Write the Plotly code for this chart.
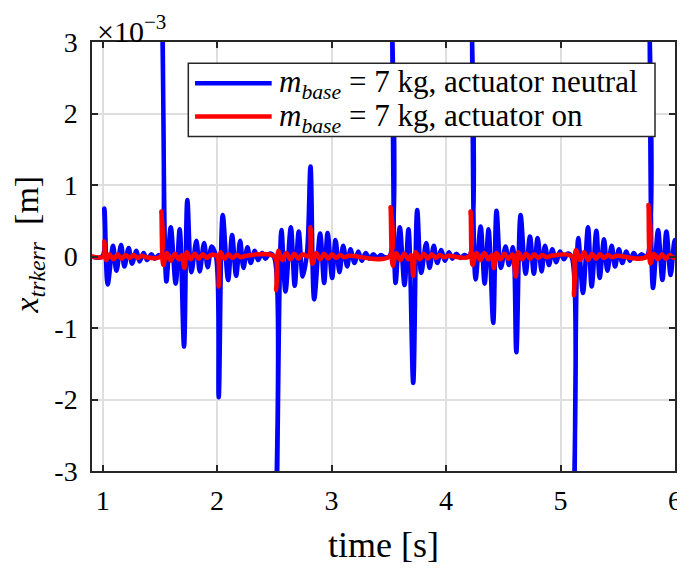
import plotly.graph_objects as go

# time [s] and tracking error [x 1e-3 m], vertices
t_neutral = [0.90, 0.995, 1.015, 1.044, 1.091, 1.120, 1.161, 1.190, 1.227, 1.257, 1.295, 1.323, 1.358, 1.388,
             1.426, 1.455, 1.490, 1.508, 1.519, 1.557, 1.595, 1.638, 1.673, 1.711, 1.740, 1.775, 1.819, 1.848,
             1.886, 1.918, 1.952, 1.990, 2.014, 2.049, 2.096, 2.131, 2.166, 2.201, 2.230, 2.265, 2.294, 2.329,
             2.358, 2.393, 2.422, 2.457, 2.495, 2.516, 2.562, 2.597, 2.644, 2.678, 2.713, 2.748, 2.785, 2.816,
             2.848, 2.900, 2.935, 2.965, 3.005, 3.034, 3.069, 3.101, 3.136, 3.165, 3.200, 3.233, 3.264, 3.298,
             3.330, 3.365, 3.398, 3.432, 3.465, 3.505, 3.524, 3.559, 3.596, 3.637, 3.672, 3.713, 3.748, 3.783,
             3.827, 3.856, 3.893, 3.923, 3.958, 3.990, 4.025, 4.055, 4.090, 4.125, 4.160, 4.200, 4.221, 4.258,
             4.302, 4.337, 4.371, 4.412, 4.441, 4.479, 4.520, 4.549, 4.584, 4.614, 4.651, 4.695, 4.733, 4.767,
             4.800, 4.835, 4.864, 4.900, 4.928, 4.963, 4.995, 5.030, 5.060, 5.095, 5.117, 5.155, 5.196, 5.240,
             5.272, 5.313, 5.342, 5.380, 5.409, 5.447, 5.476, 5.510, 5.540, 5.575, 5.605, 5.640, 5.670, 5.705,
             5.750, 5.773, 5.808, 5.852, 5.890, 5.925, 5.962, 5.997, 6.030]
e_neutral = [0.0, 0.0, 0.67, -0.39, 0.15, -0.20, 0.16, -0.14, 0.12, -0.10, 0.08, -0.07, 0.05, -0.05,
             0.03, -0.03, 0.02, 0.0, 3.7, -0.35, 0.41, -0.38, 0.38, -1.26, 0.79, -0.22, 0.22, -0.21,
             0.19, -0.15, 0.14, 0.0, -1.97, 0.58, -0.33, 0.30, -0.27, 0.22, -0.16, 0.13, -0.09, 0.08,
             -0.05, 0.05, -0.03, 0.04, 0.0, -3.7, 0.37, -0.49, 0.41, -0.41, 0.35, -0.28, 0.05, 1.26,
             -0.60, 0.32, -0.37, 0.33, -0.30, 0.23, -0.22, 0.15, -0.14, 0.10, -0.09, 0.07, -0.06, 0.05,
             -0.03, 0.03, -0.02, 0.02, -0.01, 0.0, 3.7, -0.37, 0.41, -0.40, 0.38, -1.77, 0.65, -0.23,
             0.19, -0.16, 0.15, -0.09, 0.09, -0.06, 0.06, -0.03, 0.04, -0.02, 0.02, 0.0, 3.7, -0.32,
             0.42, -0.38, 0.38, -0.93, 0.64, -0.16, 0.14, -0.12, 0.13, -1.34, 0.58, -0.24, 0.28, -0.24,
             0.26, -0.21, 0.15, -0.12, 0.10, -0.08, 0.07, -0.04, 0.04, 0.0, -3.7, 0.26, -0.51, 0.41,
             -0.42, 0.36, -0.30, 0.24, -0.20, 0.15, -0.14, 0.10, -0.09, 0.07, -0.06, 0.05, -0.03, 0.03,
             0.0, 3.7, -0.44, 0.37, -0.33, 0.35, -0.26, 0.23, -0.20]

t_on = [0.90, 1.005, 1.015, 1.030, 1.060, 1.095, 1.130, 1.165, 1.200, 1.235, 1.270, 1.305, 1.340, 1.380,
        1.505, 1.513, 1.530, 1.560, 1.595, 1.630, 1.665, 1.690, 1.714, 1.735, 1.770, 1.805, 1.840, 1.875,
        1.910, 1.945, 2.000, 2.014, 2.030, 2.065, 2.100, 2.135, 2.170, 2.210, 2.250, 2.500, 2.516, 2.535,
        2.570, 2.605, 2.640, 2.675, 2.710, 2.745, 2.800, 2.816, 2.832, 2.865, 2.900, 2.935, 2.970, 3.005,
        3.040, 3.075, 3.110, 3.150, 3.505, 3.515, 3.535, 3.565, 3.600, 3.635, 3.670, 3.695, 3.713, 3.735,
        3.770, 3.805, 3.840, 3.875, 3.910, 3.945, 3.980, 4.020, 4.200, 4.214, 4.232, 4.265, 4.300, 4.335,
        4.370, 4.400, 4.418, 4.440, 4.475, 4.510, 4.545, 4.580, 4.609, 4.630, 4.665, 4.700, 4.735, 4.770,
        4.805, 4.840, 4.880, 4.920, 5.100, 5.117, 5.135, 5.170, 5.205, 5.240, 5.275, 5.310, 5.345, 5.380,
        5.415, 5.450, 5.490, 5.755, 5.768, 5.785, 5.815, 5.850, 5.885, 5.920, 5.955, 5.990, 6.030]
e_on = [0.0, 0.0, 0.21, -0.05, 0.03, -0.04, 0.03, -0.03, 0.02, -0.02, 0.02, -0.02, 0.01, -0.01,
        0.0, 0.63, -0.12, 0.05, -0.06, 0.04, -0.04, 0.02, -0.16, 0.06, -0.04, 0.04, -0.03, 0.03,
        -0.02, 0.02, 0.0, -0.42, 0.06, -0.03, 0.03, -0.02, 0.02, -0.01, 0.01, 0.0, -0.47, 0.08,
        -0.05, 0.05, -0.04, 0.04, -0.03, 0.03, 0.0, 0.41, -0.10, 0.05, -0.04, 0.04, -0.03, 0.03,
        -0.02, 0.02, -0.01, 0.01, 0.0, 0.69, -0.13, 0.05, -0.05, 0.04, -0.04, 0.02, -0.27, 0.06,
        -0.04, 0.04, -0.03, 0.03, -0.02, 0.02, -0.01, 0.01, 0.0, 0.63, -0.12, 0.05, -0.05, 0.05,
        -0.04, 0.02, -0.16, 0.05, -0.04, 0.04, -0.03, 0.03, -0.28, 0.06, -0.04, 0.04, -0.03, 0.03,
        -0.02, 0.02, -0.01, 0.01, 0.0, -0.54, 0.09, -0.05, 0.06, -0.05, 0.04, -0.03, 0.03, -0.02,
        0.02, -0.01, 0.01, 0.0, 0.72, -0.10, 0.04, -0.04, 0.03, -0.03, 0.02, -0.02, 0.01]

x_ticks = [1, 2, 3, 4, 5, 6]
y_ticks = [-3, -2, -1, 0, 1, 2, 3]
y_ticklabels = ["-3", "-2", "-1", "0", "1", "2", "3"]

series_names = ["<i>m</i><sub><i>base</i></sub> = 7 kg, actuator neutral",
                "<i>m</i><sub><i>base</i></sub> = 7 kg, actuator on"]
series_colors = ["#0000ff", "#ff0000"]

FONT = "Liberation Serif"
AX = "#262626"
GRID = "#dfdfdf"

fig = go.Figure()
fig.add_trace(go.Scatter(x=t_neutral, y=e_neutral, mode="lines", showlegend=False,
                         line=dict(color=series_colors[0], width=4.5, shape="spline", smoothing=1.0),
                         name=series_names[0]))
fig.add_trace(go.Scatter(x=t_on, y=e_on, mode="lines", showlegend=False,
                         line=dict(color=series_colors[1], width=4.5, shape="spline", smoothing=1.0),
                         name=series_names[1]))

axis_common = dict(showline=True, linecolor=AX, linewidth=1.5, mirror="ticks",
                   ticks="inside", ticklen=6, tickwidth=1.5, tickcolor=AX,
                   showgrid=True, gridcolor=GRID, gridwidth=1.5, zeroline=False,
                   automargin=False,
                   tickfont=dict(family=FONT, size=28, color="black"))

# page body adds an 8px offset, so the figure is 8px smaller and shifted margins
fig.update_layout(
    width=677, height=562,
    margin=dict(l=84, r=10, t=34, b=98.5),
    paper_bgcolor="white", plot_bgcolor="white",
    font=dict(family=FONT, color="black"),
    xaxis=dict(range=[0.907, 6.0], tickvals=x_ticks, ticklabelstandoff=4, **axis_common),
    yaxis=dict(range=[-3, 3], tickvals=y_ticks, ticktext=y_ticklabels, ticklabelstandoff=7,
               **axis_common),
    showlegend=False,
)

# legend box (paper coordinates of the plot area)
fig.add_shape(type="rect", xref="paper", yref="paper", x0=0.1652, x1=0.9657, y0=0.7795, y1=0.9504,
              line=dict(color=AX, width=1.5), fillcolor="white", layer="above")
legend_rows_y = [0.9038, 0.8261]
for name, color, yy in zip(series_names, series_colors, legend_rows_y):
    fig.add_shape(type="line", xref="paper", yref="paper", x0=0.1767, x1=0.3082, y0=yy, y1=yy,
                  line=dict(color=color, width=4.5), layer="above")
    fig.add_annotation(xref="paper", yref="paper", x=0.3173, y=yy, xanchor="left", yanchor="middle",
                       text=name, showarrow=False, yshift=-1,
                       font=dict(family=FONT, size=31, color="black"))

fig.add_annotation(xref="paper", yref="paper", x=0.005, y=1.0, xanchor="left", yanchor="bottom",
                   text="×10<sup>−3</sup>", showarrow=False,
                   font=dict(family=FONT, size=30, color="black"), yshift=-8)
fig.add_annotation(xref="paper", yref="paper", x=-0.1080, y=0.528, xanchor="center", yanchor="middle",
                   textangle=-90, showarrow=False,
                   text="<i>x</i><sub><i>trkerr</i></sub>  [m]",
                   font=dict(family=FONT, size=34, color="black"))
fig.add_annotation(xref="paper", yref="paper", x=0.5, y=-0.1735, xanchor="center", yanchor="middle",
                   text="time [s]", showarrow=False,
                   font=dict(family=FONT, size=36, color="black"))

fig.write_html("out.html")
